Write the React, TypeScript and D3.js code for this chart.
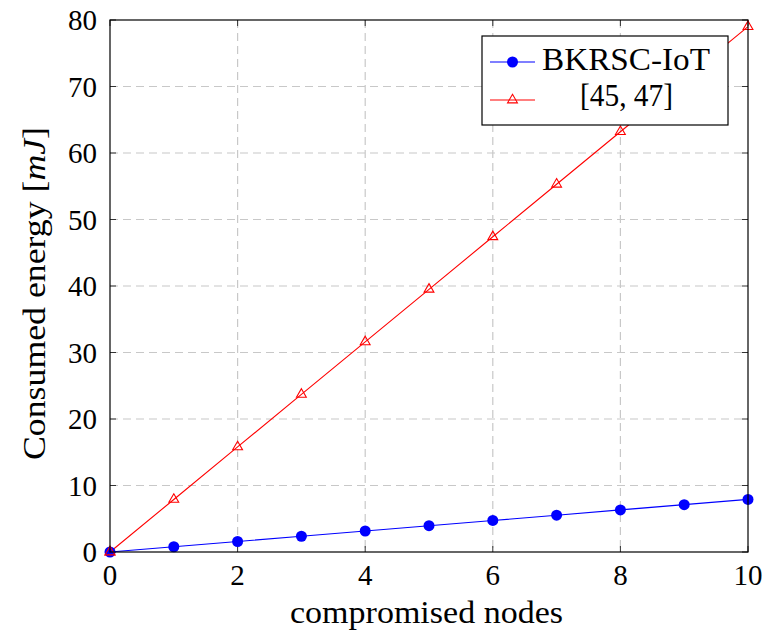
import React, { useRef, useEffect } from "react";
import * as d3 from "d3";

const nodes = [0, 1, 2, 3, 4, 5, 6, 7, 8, 9, 10];
const bkrsc = [0, 0.79, 1.58, 2.37, 3.16, 3.95, 4.74, 5.53, 6.32, 7.11, 7.9];
const ref4547 = [0, 7.9, 15.8, 23.7, 31.6, 39.5, 47.4, 55.3, 63.2, 71.1, 79.0];
const xTicks = [0, 2, 4, 6, 8, 10];
const yTicks = [0, 10, 20, 30, 40, 50, 60, 70, 80];

const FONT = "'Liberation Serif', 'Times New Roman', 'DejaVu Serif', serif";

const App = () => {
  const svgRef = useRef<SVGSVGElement | null>(null);

  useEffect(() => {
    const svg = d3.select(svgRef.current);
    svg.selectAll("*").remove();

    const margin = { top: 20, right: 15, bottom: 83, left: 110 };
    const width = 763 - margin.left - margin.right;
    const height = 635 - margin.top - margin.bottom;

    const chart = svg.append("g").attr("transform", `translate(${margin.left},${margin.top})`);

    const x = d3.scaleLinear().domain([0, 10]).range([0, width]);
    const y = d3.scaleLinear().domain([0, 80]).range([height, 0]);

    // grid
    chart.selectAll(".gx")
      .data(xTicks.slice(1, -1))
      .enter().append("line")
      .attr("x1", d => x(d)).attr("x2", d => x(d))
      .attr("y1", 0).attr("y2", height)
      .attr("stroke", "#c8c8c8").attr("stroke-width", 1.2).attr("stroke-dasharray", "8,5");
    chart.selectAll(".gy")
      .data(yTicks.slice(1, -1))
      .enter().append("line")
      .attr("x1", 0).attr("x2", width)
      .attr("y1", d => y(d)).attr("y2", d => y(d))
      .attr("stroke", "#c8c8c8").attr("stroke-width", 1.2).attr("stroke-dasharray", "8,5");

    // inward ticks on all sides
    const tl = 6;
    xTicks.forEach(t => {
      chart.append("line").attr("x1", x(t)).attr("x2", x(t)).attr("y1", height).attr("y2", height - tl).attr("stroke", "#333");
      chart.append("line").attr("x1", x(t)).attr("x2", x(t)).attr("y1", 0).attr("y2", tl).attr("stroke", "#333");
    });
    yTicks.forEach(t => {
      chart.append("line").attr("x1", 0).attr("x2", tl).attr("y1", y(t)).attr("y2", y(t)).attr("stroke", "#333");
      chart.append("line").attr("x1", width).attr("x2", width - tl).attr("y1", y(t)).attr("y2", y(t)).attr("stroke", "#333");
    });

    // tick labels
    chart.selectAll(".xl")
      .data(xTicks).enter().append("text")
      .attr("x", d => x(d)).attr("y", height + 33)
      .attr("text-anchor", "middle")
      .style("font-family", FONT).style("font-size", "29px")
      .text(d => d);
    chart.selectAll(".yl")
      .data(yTicks).enter().append("text")
      .attr("x", -13).attr("y", d => y(d) + 10)
      .attr("text-anchor", "end")
      .style("font-family", FONT).style("font-size", "29px")
      .text(d => d);

    const line = d3.line<number>().x((d, i) => x(nodes[i])).y(d => y(d));

    // red series
    chart.append("path").datum(ref4547)
      .attr("fill", "none").attr("stroke", "#ff0000").attr("stroke-width", 1.1)
      .attr("d", line);
    const tri = d3.symbol().type(d3.symbolTriangle).size(42);
    chart.selectAll(".tri")
      .data(ref4547).enter().append("path")
      .attr("d", tri)
      .attr("transform", (d, i) => `translate(${x(nodes[i])},${y(d)})`)
      .attr("fill", "none").attr("stroke", "#ff0000").attr("stroke-width", 1.1);

    // blue series
    chart.append("path").datum(bkrsc)
      .attr("fill", "none").attr("stroke", "#0000ff").attr("stroke-width", 1.2)
      .attr("d", line);
    chart.selectAll(".dot")
      .data(bkrsc).enter().append("circle")
      .attr("cx", (d, i) => x(nodes[i])).attr("cy", d => y(d))
      .attr("r", 5.5).attr("fill", "#0000ff");

    // red marker at origin on top
    chart.append("path").attr("d", tri)
      .attr("transform", `translate(${x(0)},${y(0)})`)
      .attr("fill", "none").attr("stroke", "#ff0000").attr("stroke-width", 1.1);

    // frame
    chart.append("rect").attr("x", 0).attr("y", 0).attr("width", width).attr("height", height)
      .attr("fill", "none").attr("stroke", "#000").attr("stroke-width", 1.2);

    // legend
    const lg = chart.append("g").attr("transform", `translate(${372},${16})`);
    lg.append("rect").attr("x", 0).attr("y", 0).attr("width", 246).attr("height", 89)
      .attr("fill", "#fff").attr("stroke", "#000").attr("stroke-width", 1.2);
    lg.append("line").attr("x1", 8).attr("x2", 53).attr("y1", 26).attr("y2", 26)
      .attr("stroke", "#0000ff").attr("stroke-width", 1.2);
    lg.append("circle").attr("cx", 30.5).attr("cy", 26).attr("r", 5.5).attr("fill", "#0000ff");
    lg.append("text").attr("x", 60).attr("y", 34)
      .attr("textLength", 168).attr("lengthAdjust", "spacingAndGlyphs")
      .style("font-family", FONT).style("font-size", "31px").text("BKRSC-IoT");
    lg.append("line").attr("x1", 8).attr("x2", 53).attr("y1", 64).attr("y2", 64)
      .attr("stroke", "#ff0000").attr("stroke-width", 1.1);
    lg.append("path").attr("d", tri).attr("transform", `translate(30.5,64)`)
      .attr("fill", "none").attr("stroke", "#ff0000").attr("stroke-width", 1.1);
    lg.append("text").attr("x", 98).attr("y", 70)
      .attr("textLength", 93).attr("lengthAdjust", "spacingAndGlyphs")
      .style("font-family", FONT).style("font-size", "31px").text("[45, 47]");

    // axis labels
    chart.append("text")
      .attr("x", 180).attr("y", height + 71)
      .attr("textLength", 273).attr("lengthAdjust", "spacingAndGlyphs")
      .style("font-family", FONT).style("font-size", "31px")
      .text("compromised nodes");

    const yl = chart.append("text")
      .attr("transform", "rotate(-90)")
      .attr("x", -440).attr("y", -65)
      .attr("textLength", 333).attr("lengthAdjust", "spacingAndGlyphs")
      .style("font-family", FONT).style("font-size", "31px");
    yl.append("tspan").text("Consumed energy [");
    yl.append("tspan").style("font-style", "italic").text("mJ");
    yl.append("tspan").text("]");
  }, []);

  return (
    <svg ref={svgRef} width={763} height={635} style={{ position: "absolute", left: 0, top: 0 }} />
  );
};

export default App;
